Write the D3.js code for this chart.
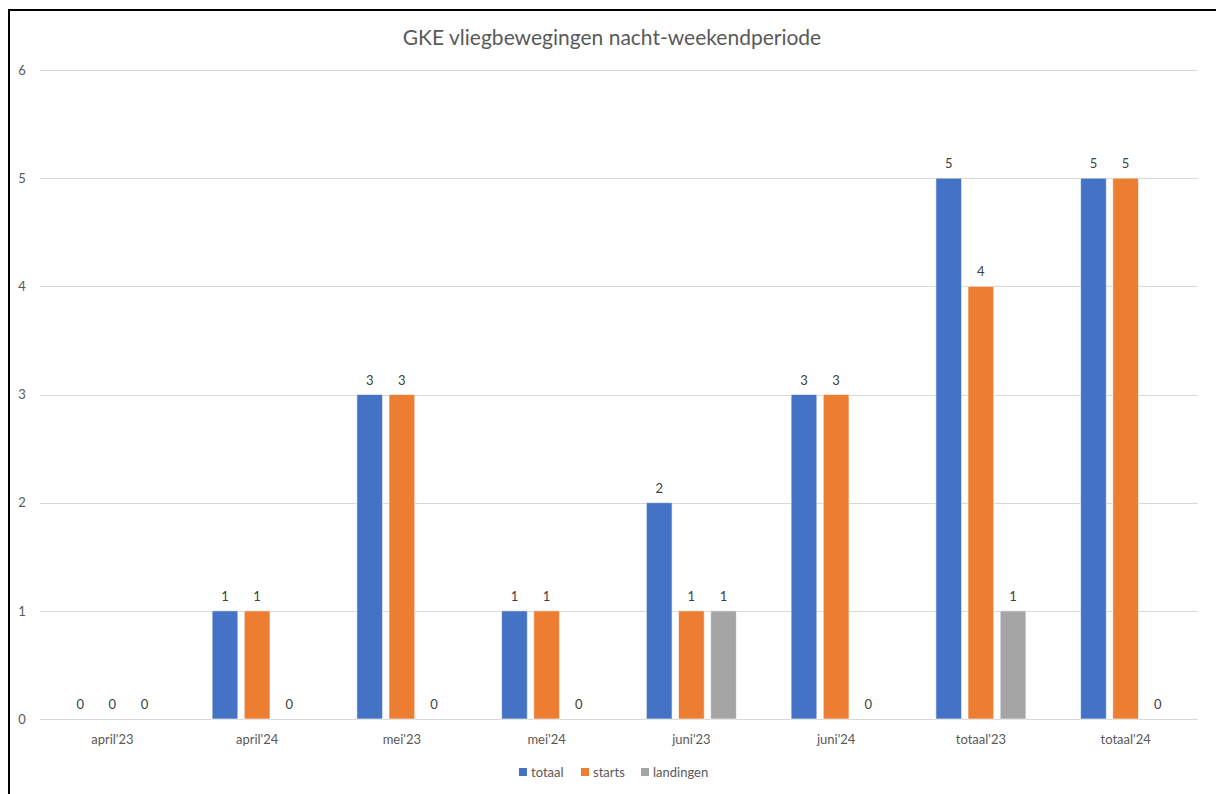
<!DOCTYPE html>
<html>
<head>
<meta charset="utf-8">
<script src="https://cdn.jsdelivr.net/npm/d3@7"></script>
<style>
body { margin: 0; background: #fff; }
svg { font-family: Lato, "Open Sans", sans-serif; }
</style>
</head>
<body>
<svg id="chart" width="1216" height="794"></svg>
<script>
// chart data
const categories = ["april'23", "april'24", "mei'23", "mei'24", "juni'23", "juni'24", "totaal'23", "totaal'24"];
const seriesNames = ["totaal", "starts", "landingen"];
const totaal = [0, 1, 3, 1, 2, 3, 5, 5];
const starts = [0, 1, 3, 1, 1, 3, 4, 5];
const landingen = [0, 0, 0, 0, 1, 0, 1, 0];
const yTicks = [0, 1, 2, 3, 4, 5, 6];
const colors = ["#4472C4", "#ED7D31", "#A5A5A5"];

const values = [totaal, starts, landingen];
const rows = categories.map((c, i) => ({
  cat: c,
  vals: seriesNames.map((s, j) => ({ key: s, value: values[j][i] }))
}));

const svg = d3.select("#chart");

// outer frame (only left & top visible in reference)
svg.append("rect")
  .attr("x", 9).attr("y", 10)
  .attr("width", 1240).attr("height", 820)
  .attr("fill", "none")
  .attr("stroke", "#000")
  .attr("stroke-width", 2);

const plot = { left: 40, right: 1198, top: 70, bottom: 719 };

const x0 = d3.scaleBand()
  .domain(categories)
  .range([plot.left, plot.right])
  .paddingInner(0.378)
  .paddingOuter(0.189);

const x1 = d3.scaleBand()
  .domain(seriesNames)
  .range([0, x0.bandwidth()])
  .paddingInner(0.2);

const y = d3.scaleLinear()
  .domain([0, 6])
  .range([plot.bottom, plot.top]);

const color = d3.scaleOrdinal().domain(seriesNames).range(colors);

// title
svg.append("text")
  .attr("x", 612).attr("y", 45)
  .attr("text-anchor", "middle")
  .attr("font-size", 21)
  .attr("fill", "#595959")
  .text("GKE vliegbewegingen nacht-weekendperiode");

// gridlines
svg.append("g")
  .selectAll("line")
  .data(yTicks)
  .join("line")
  .attr("x1", plot.left).attr("x2", plot.right)
  .attr("y1", d => Math.round(y(d)) + 0.5)
  .attr("y2", d => Math.round(y(d)) + 0.5)
  .attr("stroke", "#d9d9d9")
  .attr("stroke-width", 1);

// y axis labels
const yAxis = svg.append("g")
  .attr("transform", `translate(${plot.left - 18},0)`)
  .call(d3.axisLeft(y).tickValues(yTicks).tickFormat(d3.format("d")).tickSize(0).tickPadding(0));
yAxis.select(".domain").remove();
yAxis.selectAll("text")
  .attr("text-anchor", "middle")
  .attr("font-family", "Lato, 'Open Sans', sans-serif")
  .attr("font-size", 13)
  .attr("fill", "#595959");

// x axis labels
const xAxis = svg.append("g")
  .attr("transform", `translate(0,${plot.bottom})`)
  .call(d3.axisBottom(x0).tickSize(0).tickPadding(16));
xAxis.select(".domain").remove();
xAxis.selectAll("text")
  .attr("font-family", "Lato, 'Open Sans', sans-serif")
  .attr("font-size", 13)
  .attr("fill", "#595959");

// bars
const groups = svg.append("g")
  .selectAll("g")
  .data(rows)
  .join("g")
  .attr("transform", d => `translate(${x0(d.cat)},0)`);

groups.selectAll("rect")
  .data(d => d.vals)
  .join("rect")
  .attr("x", d => x1(d.key))
  .attr("y", d => y(d.value))
  .attr("width", x1.bandwidth())
  .attr("height", d => y(0) - y(d.value))
  .attr("fill", d => color(d.key))
  .attr("stroke", "#fff")
  .attr("stroke-opacity", 0.6)
  .attr("stroke-width", 1);

// data labels
groups.selectAll("text")
  .data(d => d.vals)
  .join("text")
  .attr("x", d => x1(d.key) + x1.bandwidth() / 2)
  .attr("y", d => y(d.value) - 10)
  .attr("text-anchor", "middle")
  .attr("font-size", 13)
  .attr("fill", "#404040")
  .text(d => d.value);

// legend
const legendItems = [
  { key: "totaal", x: 519 },
  { key: "starts", x: 581 },
  { key: "landingen", x: 641 }
];
const legend = svg.append("g")
  .selectAll("g")
  .data(legendItems)
  .join("g")
  .attr("transform", d => `translate(${d.x},768)`);
legend.append("rect")
  .attr("width", 8).attr("height", 8)
  .attr("fill", d => color(d.key));
legend.append("text")
  .attr("x", 12).attr("y", 8.5)
  .attr("font-size", 13)
  .attr("fill", "#595959")
  .text(d => d.key);
</script>
</body>
</html>
